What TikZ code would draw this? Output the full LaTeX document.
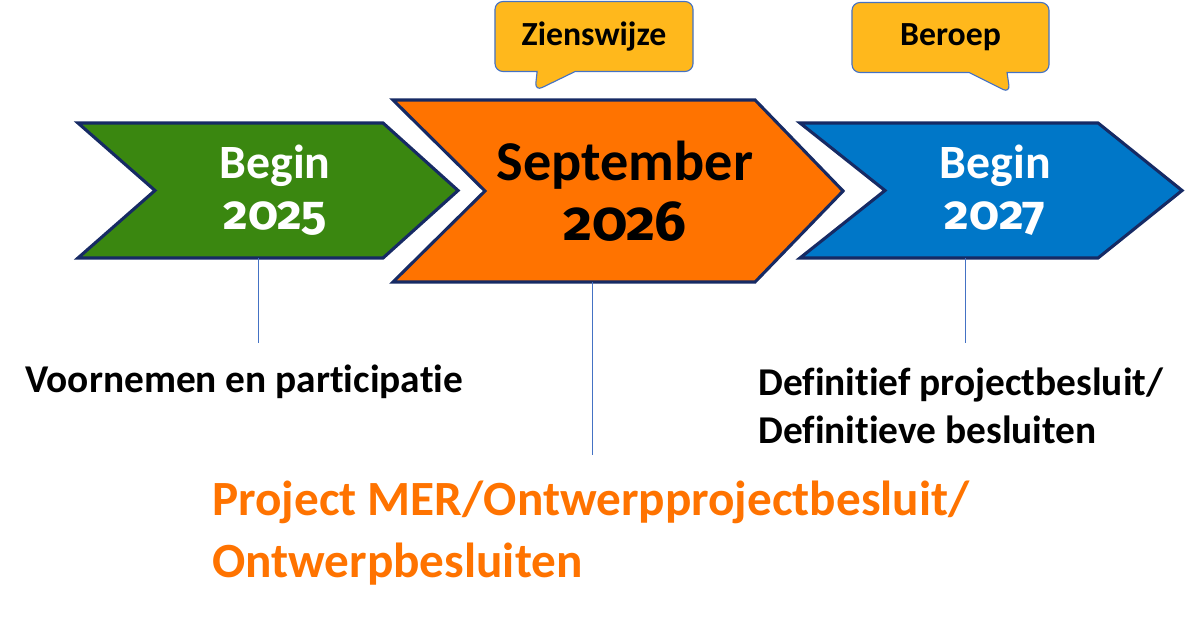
\documentclass[tikz,border=0pt]{standalone}
\usepackage{fontspec}
\setmainfont{Carlito}[Ligatures={NoCommon}]
\newfontfamily\yearfont{Fira Sans}[Numbers=OldStyle]
\usetikzlibrary{shapes.callouts,positioning,calc,backgrounds}
\definecolor{stagegreen}{RGB}{58,135,16}
\definecolor{stageorange}{RGB}{255,115,0}
\definecolor{stageblue}{RGB}{0,119,200}
\definecolor{navyline}{RGB}{22,42,100}
\definecolor{calloutgold}{RGB}{255,184,28}
\definecolor{tickblue}{RGB}{68,114,196}

% chevron around a node: node, fill, tip depth, notch depth
\newcommand{\chevron}[4]{%
  \draw[chev, fill=#2] (#1.north west) -- ([xshift=-#3]#1.north east) -- (#1.east)
    -- ([xshift=-#3]#1.south east) -- (#1.south west) -- ([xshift=#4]#1.west) -- cycle;}

\begin{document}
\begin{tikzpicture}[x=0.025cm, y=-0.025cm,
    chev/.style={draw=navyline, line width=2.2pt, line join=miter},
    stage/.style={outer sep=0, inner sep=0, align=center, font=\fontsize{34}{36}\selectfont\bfseries},
    callbox/.style={rectangle callout, draw=tickblue, line width=0.8pt, fill=calloutgold, rounded corners=0.2cm,
      minimum width=4.95cm, minimum height=1.75cm, callout pointer width=0.95cm, outer sep=0,
      font=\fontsize{24}{28}\selectfont\bfseries},
    label/.style={anchor=base west, inner sep=0, align=left, font=\fontsize{28}{34}\selectfont\bfseries},
    tick/.style={draw=tickblue, line width=0.7pt}]

  \useasboundingbox (0,0) rectangle (1200,622);

  % stages
  \node[stage, text=white, minimum width=9.5cm, minimum height=3.375cm] (start) at (268,190.5) {\hspace*{10pt}Begin\\\hspace*{10pt}{\yearfont 2025}};
  \node[stage, minimum width=11.25cm, minimum height=4.55cm, font=\fontsize{40}{43}\selectfont\bfseries] (ontwerp) at (618,191) {\hspace*{10pt}September\\\hspace*{10pt}{\yearfont 2026}};
  \node[stage, text=white, minimum width=9.55cm, minimum height=3.375cm] (definitief) at (991,190.5) {\hspace*{6pt}Begin\\\hspace*{6pt}{\yearfont 2027}};

  \begin{scope}[on background layer]
    \chevron{start}{stagegreen}{1.875cm}{1.925cm}
    \chevron{ontwerp}{stageorange}{2.2cm}{2.3cm}
    \chevron{definitief}{stageblue}{2.1cm}{2.125cm}
  \end{scope}

  % callouts
  \node[callbox, callout absolute pointer={(535,91)}] (zienswijze) at (594,36.5) {Zienswijze};
  \node[callbox, minimum width=4.925cm, callout absolute pointer={(1010,93)}] (beroep) at (950.5,37.5) {Beroep};

  % labels below (base = last line)
  \node[label] (voornemen) at (25,392) {Voornemen en participatie};
  \node[label, text=stageorange, font=\fontsize{35}{44}\selectfont\bfseries] (mer) at (212,577) {Project MER/Ontwerpprojectbesluit/\\Ontwerpbesluiten};
  \node[label] (besluit) at (758,443) {Definitief projectbesluit/\\Definitieve besluiten};

  \coordinate (tick1) at (258,343);
  \coordinate (tick2) at (592,455);
  \coordinate (tick3) at (965,343);
  \draw[tick] (tick1 |- start.south) -- (tick1);
  \draw[tick] (tick2 |- ontwerp.south) -- (tick2);
  \draw[tick] (tick3 |- definitief.south) -- (tick3);
\end{tikzpicture}
\end{document}
